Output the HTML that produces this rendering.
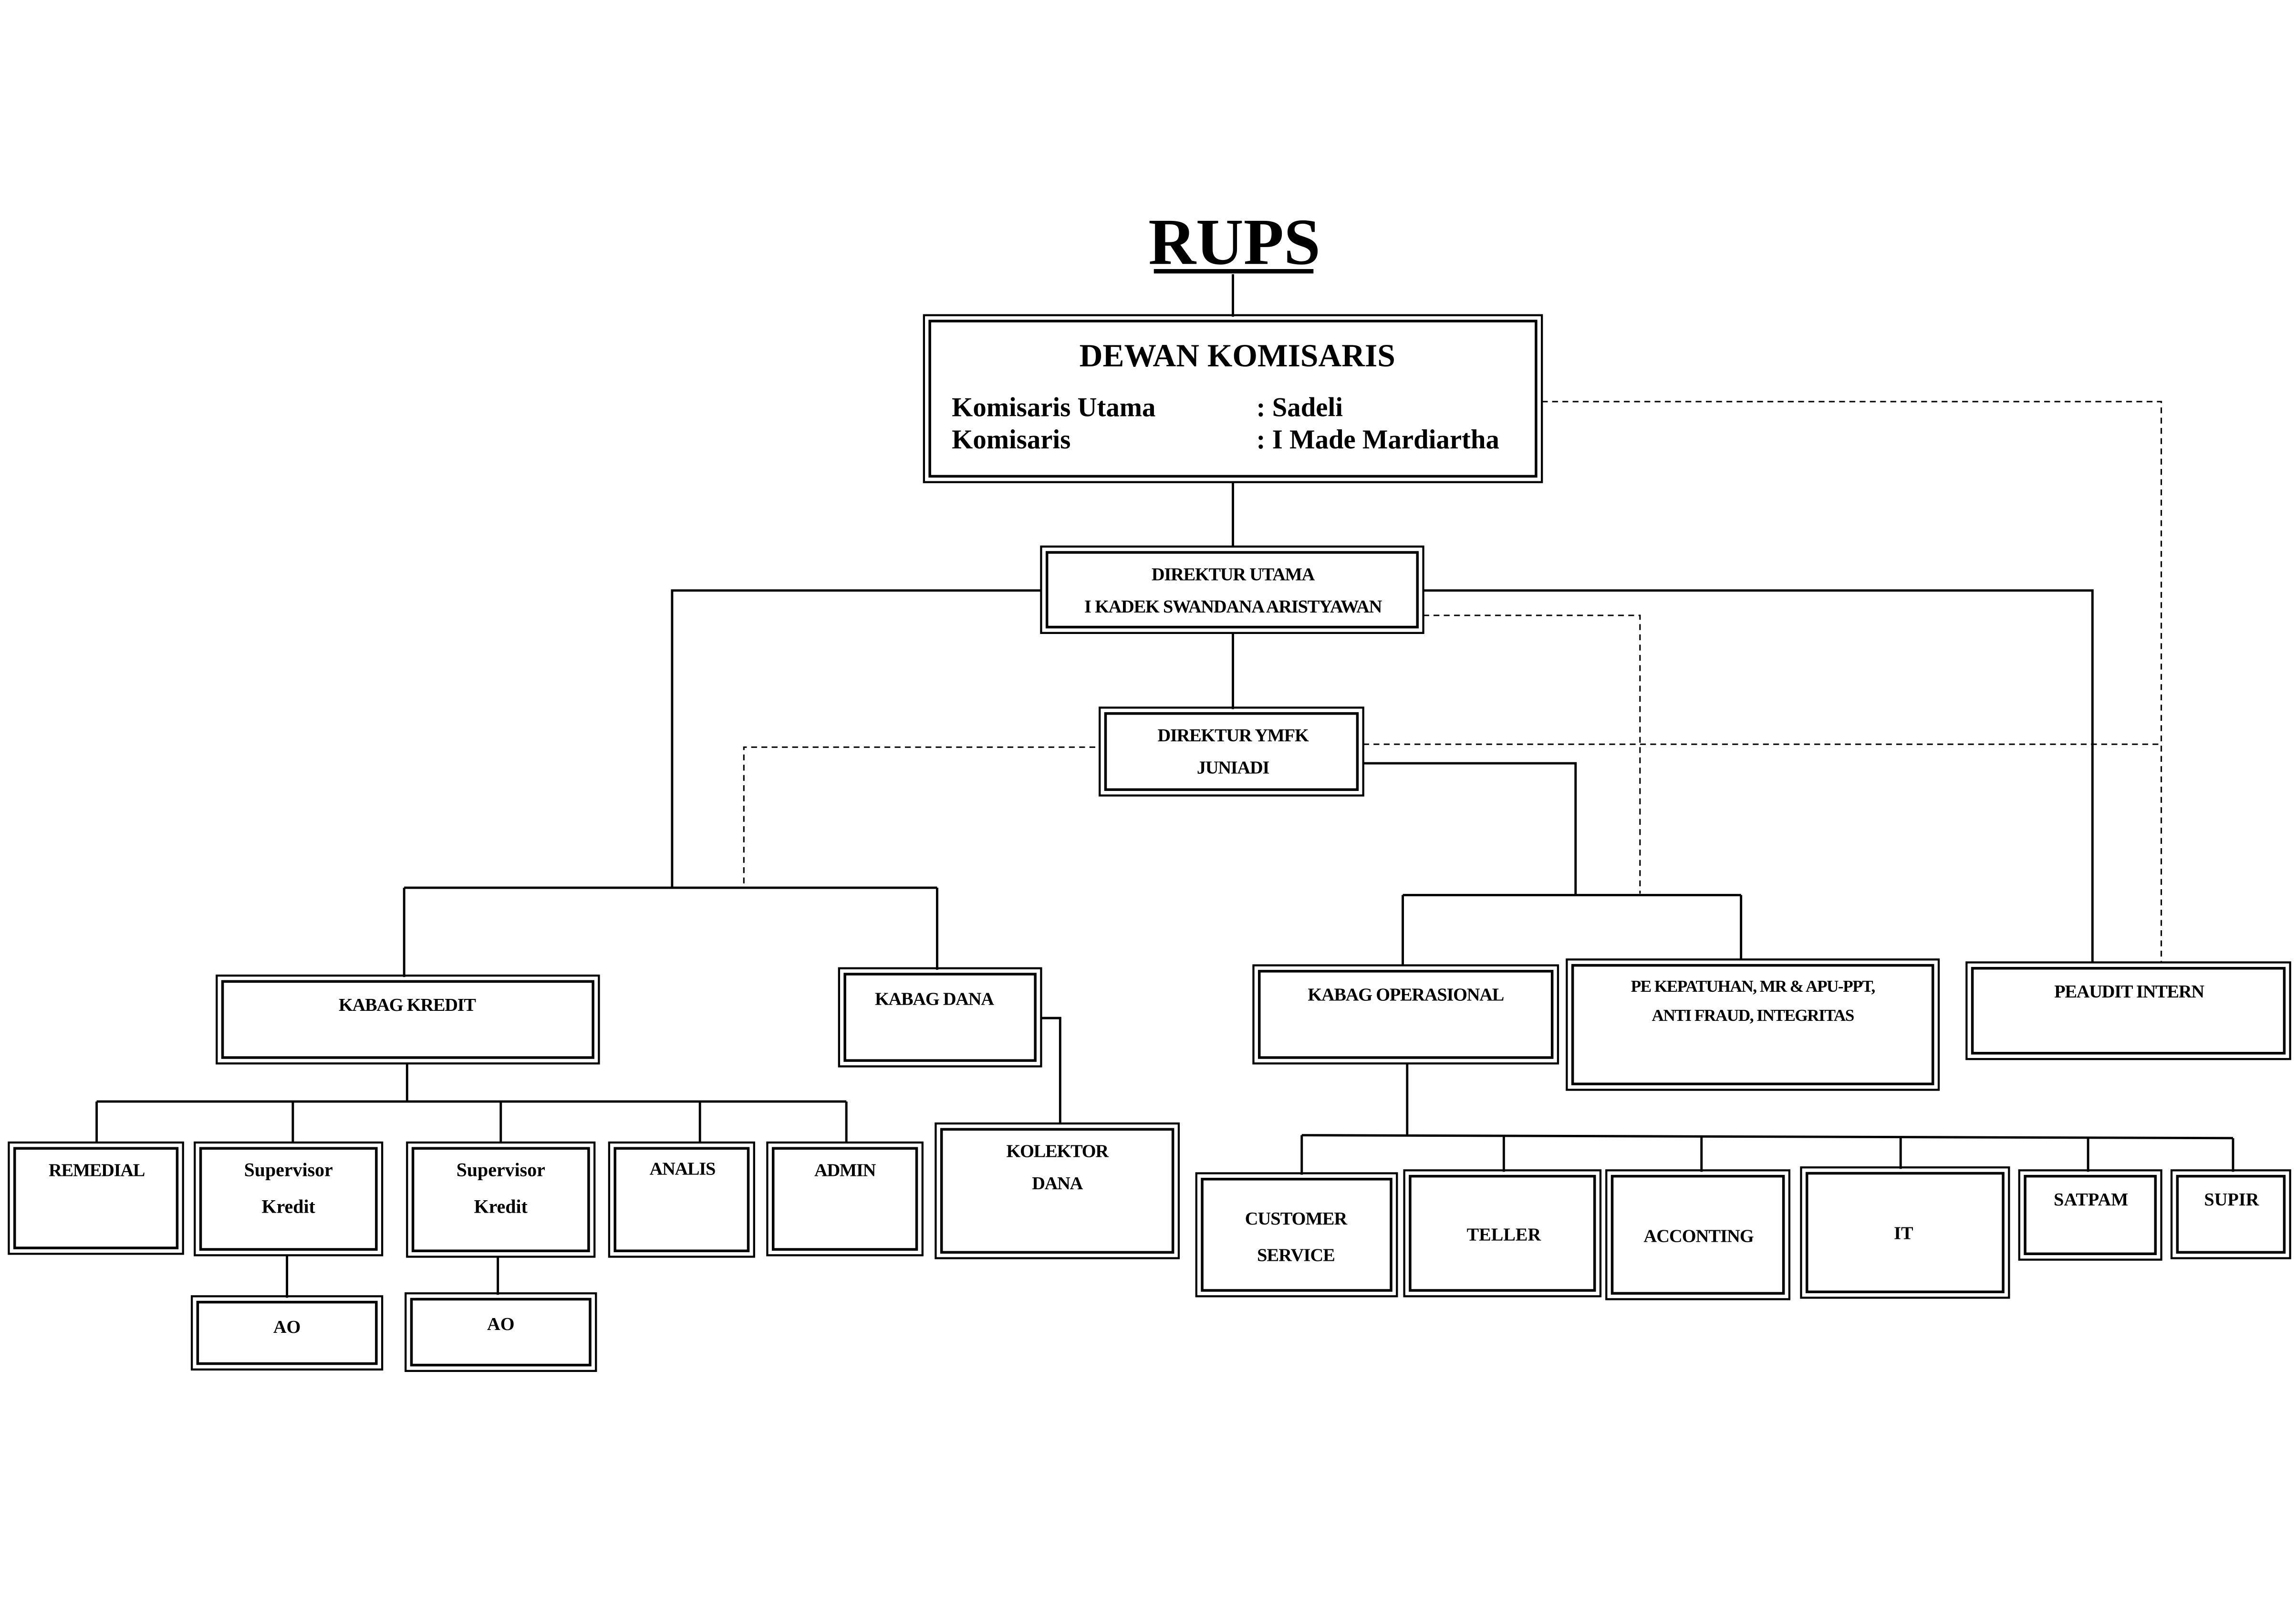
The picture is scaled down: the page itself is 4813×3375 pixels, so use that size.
<!DOCTYPE html>
<html><head><meta charset="utf-8"><style>
html,body{margin:0;padding:0;background:#fff;}
svg{display:block;}
text{font-family:"Liberation Serif",serif;font-weight:bold;fill:#000;}
.o{fill:none;stroke:#000;stroke-width:1.4}
.i{fill:none;stroke:#000;stroke-width:1.8}
.l{stroke:#000;stroke-width:1.6;fill:none}
.d{stroke:#000;stroke-width:1;fill:none;stroke-dasharray:4,3}
.s{font-size:12.5px;text-anchor:middle}
</style></head><body>
<svg width="4813" height="3375" viewBox="0 0 1568 1099" xmlns="http://www.w3.org/2000/svg">
<rect width="1568" height="1099" fill="#fff"/>
<!-- RUPS -->
<text x="843" y="180" font-size="45" text-anchor="middle">RUPS</text>
<line x1="788" y1="185" x2="897" y2="185" stroke="#000" stroke-width="3"/>
<line class="l" x1="842" y1="187" x2="842" y2="216"/>
<!-- Dewan -->
<rect class="o" x="631" y="215" width="422" height="114"/>
<rect class="i" x="635" y="219" width="414" height="106"/>
<text x="845" y="250" font-size="22" text-anchor="middle">DEWAN KOMISARIS</text>
<text x="650" y="284" font-size="18.5">Komisaris Utama</text>
<text x="858" y="284" font-size="18.5">: Sadeli</text>
<text x="650" y="306" font-size="18.5">Komisaris</text>
<text x="858" y="306" font-size="18.5">: I Made Mardiartha</text>
<line class="l" x1="842" y1="329" x2="842" y2="373"/>
<polyline class="d" points="1053,274 1476,274 1476,657"/>
<!-- Direktur Utama -->
<rect class="o" x="711" y="373" width="261" height="59"/>
<rect class="i" x="715" y="377" width="253" height="51"/>
<text class="s" x="842" y="396" font-size="12.5" style="letter-spacing:-0.4px">DIREKTUR UTAMA</text>
<text class="s" x="842" y="418" font-size="12.5" style="letter-spacing:-0.4px">I KADEK SWANDANA ARISTYAWAN</text>
<polyline class="l" points="711,403 459,403 459,606"/>
<polyline class="l" points="972,403 1429,403 1429,657"/>
<polyline class="d" points="972,420 1120,420 1120,610"/>
<line class="l" x1="842" y1="432" x2="842" y2="484"/>
<!-- Direktur YMFK -->
<rect class="o" x="751" y="483" width="180" height="60"/>
<rect class="i" x="755" y="487" width="172" height="52"/>
<text class="s" x="842" y="506" style="letter-spacing:-0.4px">DIREKTUR YMFK</text>
<text class="s" x="842" y="528" style="letter-spacing:-0.4px">JUNIADI</text>
<polyline class="d" points="748,510 508,510 508,606"/>
<line class="d" x1="931" y1="508" x2="1476" y2="508"/>
<polyline class="l" points="931,521 1076,521 1076,611"/>
<!-- Left bus -->
<line class="l" x1="276" y1="606" x2="640" y2="606"/>
<line class="l" x1="276" y1="606" x2="276" y2="667"/>
<line class="l" x1="640" y1="606" x2="640" y2="662"/>
<!-- Kabag Kredit -->
<rect class="o" x="148" y="666" width="261" height="60"/>
<rect class="i" x="152" y="670" width="253" height="52"/>
<text class="s" x="278" y="690" style="letter-spacing:-0.4px">KABAG KREDIT</text>
<!-- Kabag Dana -->
<rect class="o" x="573" y="661" width="138" height="67"/>
<rect class="i" x="577" y="665" width="130" height="59"/>
<text class="s" x="638" y="686" style="letter-spacing:-0.4px">KABAG DANA</text>
<polyline class="l" points="711,695 724,695 724,767"/>
<!-- Kolektor -->
<rect class="o" x="639" y="767" width="166" height="92"/>
<rect class="i" x="643" y="771" width="158" height="84"/>
<text class="s" x="722" y="790" style="letter-spacing:-0.4px">KOLEKTOR</text>
<text class="s" x="722" y="812" style="letter-spacing:-0.4px">DANA</text>
<!-- Kredit subtree -->
<line class="l" x1="278" y1="726" x2="278" y2="752"/>
<line class="l" x1="66" y1="752" x2="578" y2="752"/>
<line class="l" x1="66" y1="752" x2="66" y2="780"/>
<line class="l" x1="200" y1="752" x2="200" y2="780"/>
<line class="l" x1="342" y1="752" x2="342" y2="780"/>
<line class="l" x1="478" y1="752" x2="478" y2="780"/>
<line class="l" x1="578" y1="752" x2="578" y2="780"/>
<rect class="o" x="6" y="780" width="119" height="76"/>
<rect class="i" x="10" y="784" width="111" height="68"/>
<text class="s" x="66" y="803" style="letter-spacing:-0.4px">REMEDIAL</text>
<rect class="o" x="133" y="780" width="128" height="77"/>
<rect class="i" x="137" y="784" width="120" height="69"/>
<text class="s" x="197" y="803" font-size="13" style="font-size:13px">Supervisor</text>
<text class="s" x="197" y="828" style="font-size:13px">Kredit</text>
<rect class="o" x="278" y="780" width="128" height="78"/>
<rect class="i" x="282" y="784" width="120" height="70"/>
<text class="s" x="342" y="803" style="font-size:13px">Supervisor</text>
<text class="s" x="342" y="828" style="font-size:13px">Kredit</text>
<rect class="o" x="416" y="780" width="99" height="78"/>
<rect class="i" x="420" y="784" width="91" height="70"/>
<text class="s" x="466" y="802" style="letter-spacing:-0.4px">ANALIS</text>
<rect class="o" x="524" y="780" width="106" height="77"/>
<rect class="i" x="528" y="784" width="98" height="69"/>
<text class="s" x="577" y="803" style="letter-spacing:-0.4px">ADMIN</text>
<line class="l" x1="196" y1="857" x2="196" y2="886"/>
<rect class="o" x="131" y="885" width="130" height="50"/>
<rect class="i" x="135" y="889" width="122" height="42"/>
<text class="s" x="196" y="910">AO</text>
<line class="l" x1="340" y1="858" x2="340" y2="884"/>
<rect class="o" x="277" y="883" width="130" height="53"/>
<rect class="i" x="281" y="887" width="122" height="45"/>
<text class="s" x="342" y="908">AO</text>
<!-- Right bus -->
<line class="l" x1="958" y1="611" x2="1189" y2="611"/>
<line class="l" x1="958" y1="611" x2="958" y2="659"/>
<line class="l" x1="1189" y1="611" x2="1189" y2="655"/>
<rect class="o" x="856" y="659" width="208" height="67"/>
<rect class="i" x="860" y="663" width="200" height="59"/>
<text class="s" x="960" y="683" style="letter-spacing:-0.4px">KABAG OPERASIONAL</text>
<rect class="o" x="1070" y="655" width="254" height="89"/>
<rect class="i" x="1074" y="659" width="246" height="81"/>
<text class="s" x="1197" y="677" style="font-size:11.5px;letter-spacing:-0.5px">PE KEPATUHAN, MR &amp; APU-PPT,</text>
<text class="s" x="1197" y="697" style="font-size:11.5px;letter-spacing:-0.5px">ANTI FRAUD, INTEGRITAS</text>
<rect class="o" x="1343" y="657" width="221" height="66"/>
<rect class="i" x="1347" y="661" width="213" height="58"/>
<text class="s" x="1454" y="681" style="letter-spacing:-0.4px">PEAUDIT INTERN</text>
<!-- Operasional subtree -->
<line class="l" x1="961" y1="726" x2="961" y2="775"/>
<line class="l" x1="889" y1="775" x2="1525" y2="777"/>
<line class="l" x1="889" y1="775" x2="889" y2="802"/>
<line class="l" x1="1027" y1="775" x2="1027" y2="800"/>
<line class="l" x1="1162" y1="776" x2="1162" y2="800"/>
<line class="l" x1="1298" y1="776" x2="1298" y2="798"/>
<line class="l" x1="1426" y1="777" x2="1426" y2="800"/>
<line class="l" x1="1525" y1="777" x2="1525" y2="800"/>
<rect class="o" x="817" y="801" width="137" height="84"/>
<rect class="i" x="821" y="805" width="129" height="76"/>
<text class="s" x="885" y="836" style="letter-spacing:-0.3px">CUSTOMER</text>
<text class="s" x="885" y="861" style="letter-spacing:-0.3px">SERVICE</text>
<rect class="o" x="959" y="799" width="134" height="86"/>
<rect class="i" x="963" y="803" width="126" height="78"/>
<text class="s" x="1027" y="847">TELLER</text>
<rect class="o" x="1097" y="799" width="125" height="88"/>
<rect class="i" x="1101" y="803" width="117" height="80"/>
<text class="s" x="1160" y="848" style="letter-spacing:-0.3px">ACCONTING</text>
<rect class="o" x="1230" y="797" width="142" height="89"/>
<rect class="i" x="1234" y="801" width="134" height="81"/>
<text class="s" x="1300" y="846">IT</text>
<rect class="o" x="1379" y="799" width="97" height="61"/>
<rect class="i" x="1383" y="803" width="89" height="53"/>
<text class="s" x="1428" y="823">SATPAM</text>
<rect class="o" x="1483" y="799" width="81" height="60"/>
<rect class="i" x="1487" y="803" width="73" height="52"/>
<text class="s" x="1524" y="823">SUPIR</text>
</svg>
</body></html>
